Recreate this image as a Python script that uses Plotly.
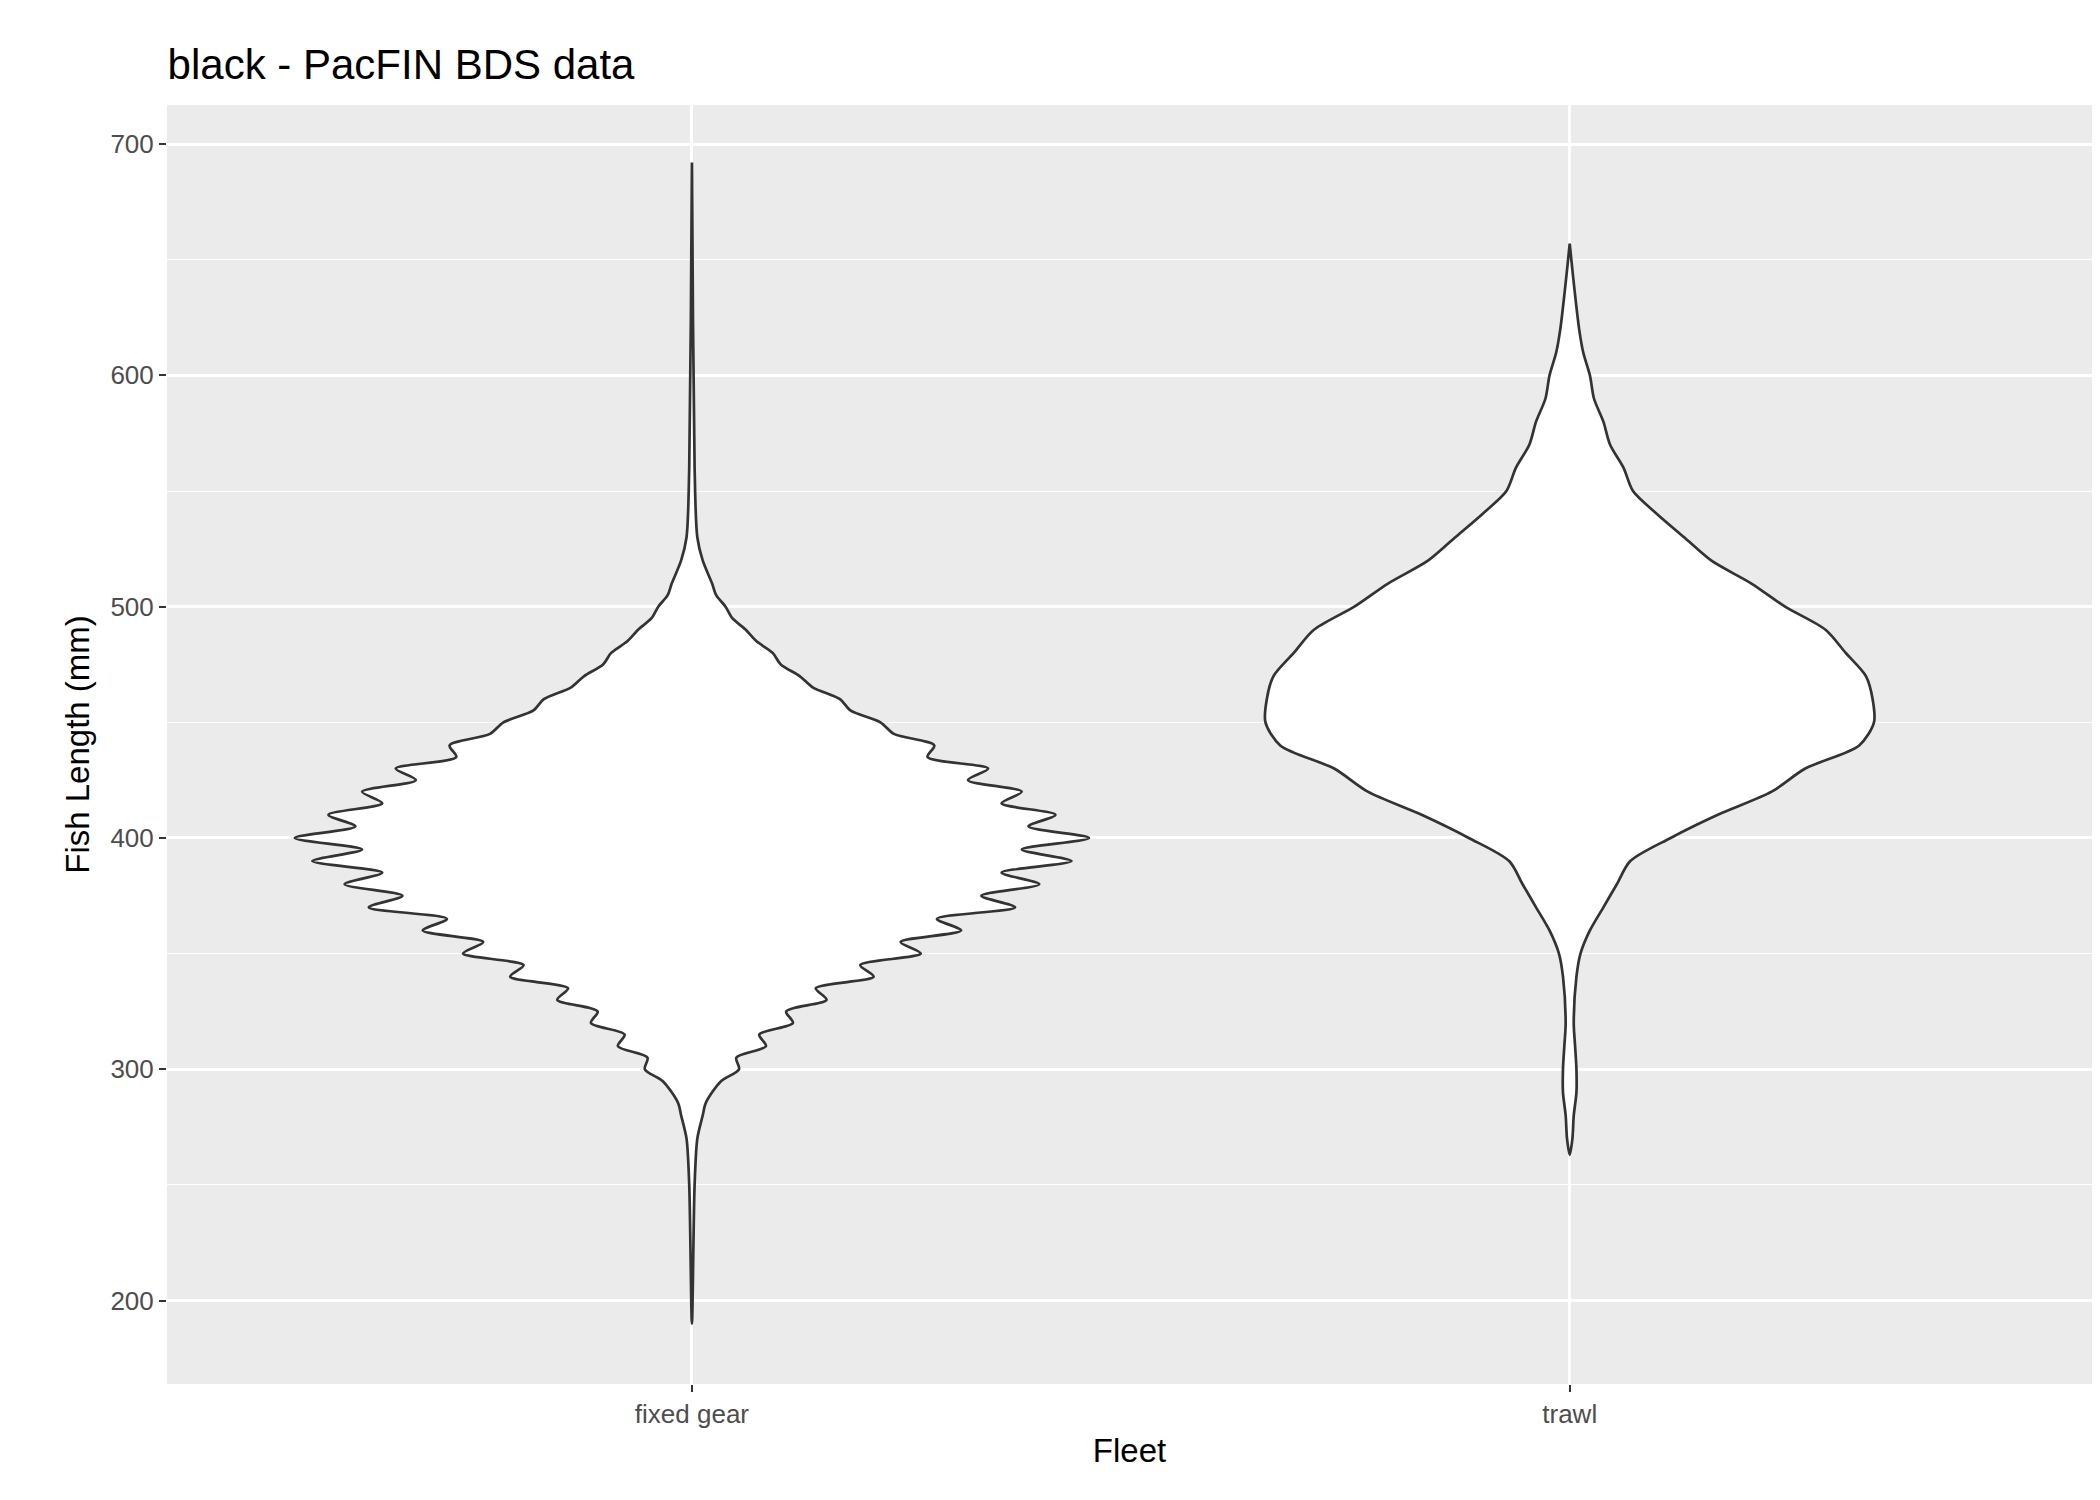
import plotly.graph_objects as go

fleets = ["fixed gear", "trawl"]

# violin outline: length (mm) and half-width (category units)
fixed_len = [190, 250, 270, 280, 285, 290, 295, 300, 305, 310, 315, 320, 325, 330, 335, 340, 345,
             350, 355, 360, 365, 370, 375, 380, 385, 390, 395, 400, 405, 410, 415, 420, 425,
             430, 435, 440, 445, 450, 455, 460, 465, 470, 475, 480, 485, 490, 495, 500, 505,
             510, 520, 530, 560, 692]
fixed_w = [0, 2, 4, 8, 10, 15, 22, 35, 33, 55, 50, 75, 70, 100, 92, 135, 125,
           170, 155, 200, 182, 240, 215, 258, 230, 282, 245, 295, 250, 270, 230, 245, 205,
           220, 175, 180, 150, 140, 118, 110, 90, 80, 66, 60, 48, 40, 30, 25, 18,
           15, 8, 4, 2, 0]
trawl_len = [263, 270, 280, 290, 300, 310, 320, 340, 350, 360, 370, 380, 390, 400, 410, 420,
             430, 440, 450, 460, 470, 480, 490, 500, 510, 520, 530, 540, 550, 560, 570, 580,
             590, 600, 610, 620, 640, 657]
trawl_w = [0, 2, 3, 5, 5, 4, 3, 5, 8, 15, 25, 35, 45, 75, 110, 150,
           175, 215, 226, 225, 220, 205, 190, 160, 135, 105, 85, 65, 47, 40, 30, 25,
           18, 15, 10, 7, 3, 0]

PX = 652.0  # pixels per category unit in the reference

fig = go.Figure()
for i, (ys, ws) in enumerate([(fixed_len, fixed_w), (trawl_len, trawl_w)]):
    pos = i + 1
    xs = [pos + w / PX for w in ws] + [pos - w / PX for w in ws[::-1]]
    yy = ys + ys[::-1]
    fig.add_trace(go.Scatter(x=xs, y=yy, mode="lines", fill="toself", fillcolor="white",
                             line=dict(color="#333333", width=2.7, shape="spline", smoothing=0.8),
                             showlegend=False, hoverinfo="skip"))

fig.update_layout(
    width=2100, height=1500,
    paper_bgcolor="white", plot_bgcolor="#EBEBEB",
    margin=dict(l=159, r=16, t=97, b=124),
    font=dict(family="Liberation Sans, Arial", size=24, color="#4D4D4D"),
    title=dict(text="black - PacFIN BDS data", x=0.076, xanchor="left", y=0.972,
               font=dict(size=42, color="black")),
)
fig.update_xaxes(range=[0.402, 2.595], tickvals=[1, 2], ticktext=fleets,
                 showgrid=True, gridcolor="white", gridwidth=2.5, zeroline=False,
                 ticks="outside", ticklen=7, tickcolor="#333333", tickwidth=2,
                 tickfont=dict(size=26),
                 title=dict(text="Fleet", font=dict(size=33, color="black"), standoff=10))
fig.update_yaxes(range=[163.9, 716.9], tickvals=[200, 300, 400, 500, 600, 700],
                 showgrid=True, gridcolor="white", gridwidth=2.5, zeroline=False,
                 minor=dict(tickvals=[250, 350, 450, 550, 650], showgrid=True,
                            gridcolor="white", gridwidth=1.2),
                 ticks="outside", ticklen=7, tickcolor="#333333", tickwidth=2,
                 tickfont=dict(size=26),
                 title=dict(text="Fish Length (mm)", font=dict(size=33, color="black"), standoff=10))

fig.write_html("out.html")
